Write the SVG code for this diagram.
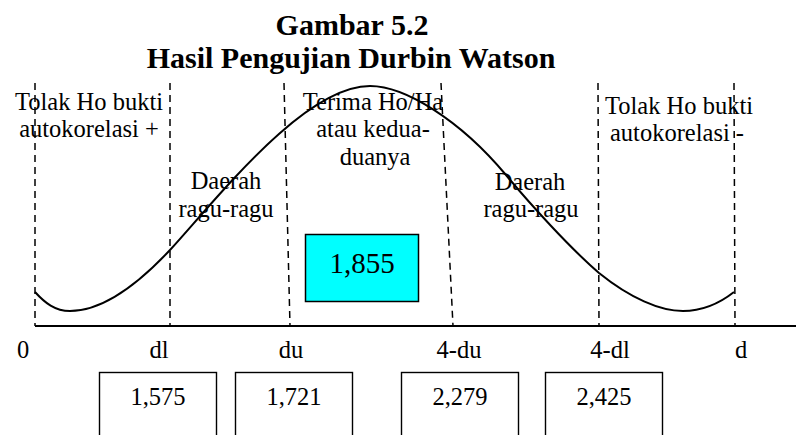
<svg xmlns="http://www.w3.org/2000/svg" width="796" height="435" viewBox="0 0 796 435">
<style>
text{fill:#000;text-anchor:middle}
.t{font-size:30px;font-weight:bold}
.l{font-size:24.5px}
.big{font-size:29px}
.dash{stroke:#000;stroke-width:1.5;stroke-dasharray:7 5;fill:none}
.box{fill:#fff;stroke:#000;stroke-width:1.4}
</style>
<rect width="796" height="435" fill="#fff"/>
<g font-family="'Liberation Serif', 'DejaVu Serif', serif">
<g id="title">
<text class="t" x="352" y="35">Gambar 5.2</text>
<text class="t" x="351" y="68">Hasil Pengujian Durbin Watson</text>
</g>
<g id="connectors">
<line x1="35" y1="326" x2="796" y2="326" stroke="#000" stroke-width="2"/>
<line class="dash" x1="35" y1="83" x2="35" y2="326"/>
<line class="dash" x1="170" y1="83" x2="170" y2="326"/>
<line class="dash" x1="284" y1="83" x2="290" y2="326"/>
<line class="dash" x1="441" y1="83" x2="453" y2="326"/>
<line class="dash" x1="598" y1="83" x2="599" y2="326"/>
<line class="dash" x1="734" y1="83" x2="735" y2="326"/>
<path d="M35,292 C45,303 55,311 70,311 C105,311 140,282 170,250 C220,195 305,86 370,86 C405,86 460,120 506,175 C530,204 570,248 599,273 C630,298 660,311 683,311 C703,311 720,303 734,292" fill="none" stroke="#000" stroke-width="2"/>
</g>
<g id="region-tolak-pos">
<text class="l" x="89" y="110">Tolak Ho bukti</text>
<text class="l" x="89" y="137">autokorelasi +</text>
</g>
<g id="region-ragu-left">
<text class="l" x="226" y="189">Daerah</text>
<text class="l" x="226" y="217">ragu-ragu</text>
</g>
<g id="region-terima">
<text class="l" x="373" y="110">Terima Ho/Ha</text>
<text class="l" x="373" y="137">atau kedua-</text>
<text class="l" x="375" y="165">duanya</text>
</g>
<g id="region-ragu-right">
<text class="l" x="530" y="190">Daerah</text>
<text class="l" x="531" y="217">ragu-ragu</text>
</g>
<g id="region-tolak-neg">
<text class="l" x="679" y="114">Tolak Ho bukti</text>
<text class="l" x="677" y="141">autokorelasi -</text>
</g>
<g id="dw-value">
<rect x="305.5" y="234.5" width="113" height="67" fill="#00FFFF" stroke="#000" stroke-width="1.5"/>
<text class="big" x="362" y="273">1,855</text>
</g>
<g id="axis-labels">
<text class="l" x="23" y="358">0</text>
<text class="l" x="159" y="358">dl</text>
<text class="l" x="291" y="358">du</text>
<text class="l" x="459" y="358">4-du</text>
<text class="l" x="610" y="358">4-dl</text>
<text class="l" x="741" y="358">d</text>
</g>
<g id="box-dl">
<rect class="box" x="99.5" y="372.5" width="117" height="80"/>
<text class="l" x="158" y="405">1,575</text>
</g>
<g id="box-du">
<rect class="box" x="235.5" y="372.5" width="117" height="80"/>
<text class="l" x="294" y="405">1,721</text>
</g>
<g id="box-4du">
<rect class="box" x="401.5" y="372.5" width="117" height="80"/>
<text class="l" x="460" y="405">2,279</text>
</g>
<g id="box-4dl">
<rect class="box" x="545.5" y="372.5" width="117" height="80"/>
<text class="l" x="604" y="405">2,425</text>
</g>
</g>
</svg>
